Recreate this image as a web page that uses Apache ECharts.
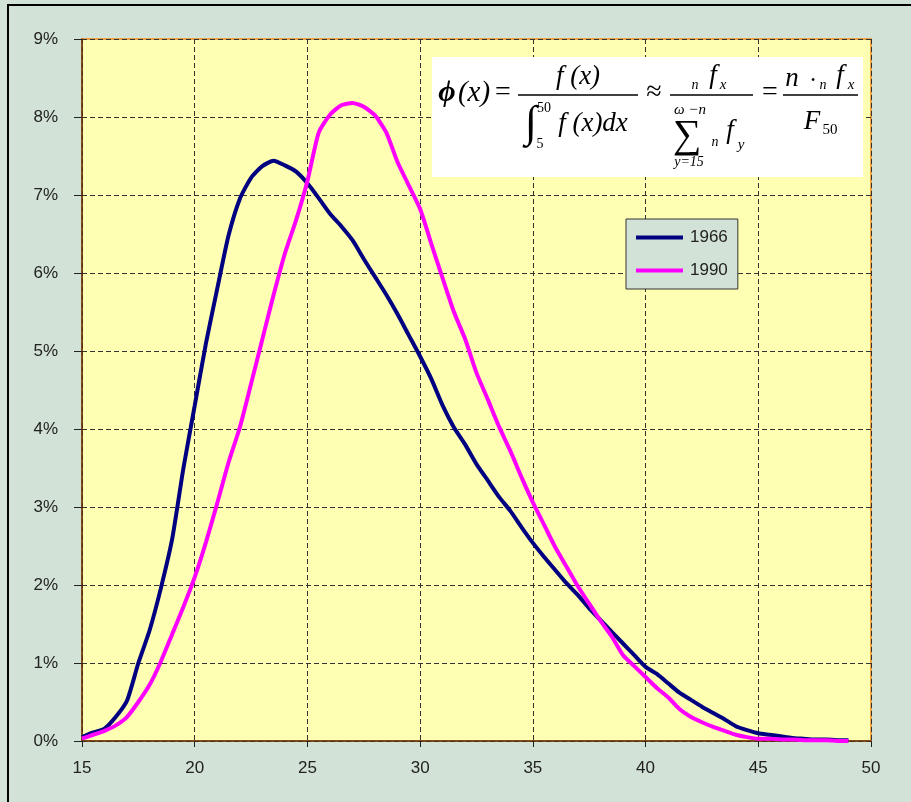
<!DOCTYPE html>
<html>
<head>
<meta charset="utf-8">
<script src="https://cdn.jsdelivr.net/npm/echarts@6/dist/echarts.min.js"></script>
<style>
  html, body { margin: 0; padding: 0; background: #d2e2d6; }
  #main { width: 911px; height: 802px; }
</style>
</head>
<body>
<div id="main"></div>
<script>
// ages 15..49 every half year
var ages = [15, 15.5, 16, 16.5, 17, 17.5, 18, 18.5, 19, 19.5, 20, 20.5, 21, 21.5, 22, 22.5, 23, 23.5, 24, 24.5,
  25, 25.5, 26, 26.5, 27, 27.5, 28, 28.5, 29, 29.5, 30, 30.5, 31, 31.5, 32, 32.5, 33, 33.5, 34, 34.5,
  35, 35.5, 36, 36.5, 37, 37.5, 38, 38.5, 39, 39.5, 40, 40.5, 41, 41.5, 42, 42.5, 43, 43.5, 44, 44.5,
  45, 45.5, 46, 46.5, 47, 47.5, 48, 48.5, 49]

// percent values
var y1966 = [0.05, 0.11, 0.16, 0.31, 0.52, 1.0, 1.42, 1.96, 2.59, 3.5, 4.3, 5.1, 5.8, 6.48, 6.95, 7.22, 7.37, 7.44, 7.38, 7.3,
  7.15, 6.96, 6.76, 6.6, 6.42, 6.18, 5.95, 5.72, 5.47, 5.2, 4.93, 4.64, 4.3, 4.02, 3.8, 3.55, 3.34, 3.13, 2.95, 2.74,
  2.54, 2.36, 2.19, 2.02, 1.87, 1.7, 1.55, 1.4, 1.25, 1.1, 0.95, 0.86, 0.74, 0.62, 0.53, 0.44, 0.36, 0.28, 0.19, 0.14,
  0.1, 0.08, 0.06, 0.04, 0.03, 0.02, 0.02, 0.01, 0.01]

var y1990 = [0.03, 0.08, 0.13, 0.2, 0.31, 0.5, 0.72, 1.02, 1.37, 1.72, 2.1, 2.55, 3.05, 3.57, 4.02, 4.58, 5.15, 5.72, 6.25, 6.68,
  7.18, 7.8, 8.03, 8.15, 8.18, 8.13, 8.02, 7.8, 7.42, 7.12, 6.82, 6.37, 5.93, 5.5, 5.15, 4.72, 4.38, 4.03, 3.72, 3.38,
  3.06, 2.77, 2.48, 2.23, 1.98, 1.76, 1.54, 1.34, 1.1, 0.96, 0.82, 0.68, 0.56, 0.41, 0.31, 0.24, 0.18, 0.13, 0.08, 0.05,
  0.03, 0.03, 0.02, 0.02, 0.01, 0.01, 0.01, 0.0, 0.0]

var seriesNames = ['1966', '1990']
var seriesColors = ['#000080', '#ff00ff']

function pairs (ys) {
  return ages.map(function (a, i) { return [a, ys[i]] })
}

var serif = '"Liberation Serif", "DejaVu Serif", serif'

function t (x, y, text, size, italic, align, weight) {
  return {
    type: 'text',
    x: x,
    y: y,
    z: 20,
    style: {
      text: text,
      font: (italic ? 'italic ' : '') + (weight ? weight + ' ' : '') + size + 'px ' + serif,
      fill: '#000',
      align: align || 'center',
      verticalAlign: 'middle'
    }
  }
}
function bar (x1, x2, y) {
  return { type: 'line', z: 20, shape: { x1: x1, y1: y, x2: x2, y2: y }, style: { stroke: '#000', lineWidth: 1.3 } }
}

var myChart = echarts.init(document.getElementById('main'))
var option = {
  backgroundColor: '#d2e2d6',
  animation: false,
  grid: {
    left: 82,
    top: 39,
    right: 40,
    bottom: 61,
    show: true,
    backgroundColor: '#ffffb4',
    borderColor: '#f08a1c',
    borderWidth: 1.5
  },
  xAxis: {
    type: 'value',
    min: 15,
    max: 50,
    interval: 5,
    axisLine: { show: true, onZero: false, lineStyle: { color: '#5a2e0a', width: 1.5 } },
    axisTick: { show: true, length: 6, lineStyle: { color: '#222' } },
    axisLabel: { color: '#222', fontSize: 17, fontFamily: '"Liberation Sans", Arial, sans-serif', margin: 19 },
    splitLine: { show: true, lineStyle: { color: '#333', type: [5, 3], width: 1 } }
  },
  yAxis: {
    type: 'value',
    min: 0,
    max: 9,
    interval: 1,
    axisLine: { show: true, lineStyle: { color: '#5a2e0a', width: 1.5 } },
    axisTick: { show: true, length: 8, lineStyle: { color: '#222' } },
    axisLabel: { color: '#222', fontSize: 17, fontFamily: '"Liberation Sans", Arial, sans-serif', margin: 24, formatter: '{value}%' },
    splitLine: { show: true, lineStyle: { color: '#333', type: [5, 3], width: 1 } }
  },
  legend: {
    show: true,
    left: 626,
    top: 219,
    width: 116,
    orient: 'vertical',
    itemWidth: 47,
    itemHeight: 4,
    itemGap: 16,
    padding: [10, 10, 10, 10],
    backgroundColor: '#d2e2d6',
    borderColor: '#333',
    borderWidth: 1,
    icon: 'rect',
    textStyle: { fontSize: 17, color: '#222', fontFamily: '"Liberation Sans", Arial, sans-serif', padding: [0, 0, 0, 2] },
    data: seriesNames
  },
  series: [
    {
      name: seriesNames[0],
      type: 'line',
      showSymbol: false,
      smooth: 0.2,
      lineStyle: { color: seriesColors[0], width: 4 },
      itemStyle: { color: seriesColors[0] },
      data: pairs(y1966)
    },
    {
      name: seriesNames[1],
      type: 'line',
      showSymbol: false,
      smooth: 0.2,
      lineStyle: { color: seriesColors[1], width: 4 },
      itemStyle: { color: seriesColors[1] },
      data: pairs(y1990)
    }
  ],
  graphic: [
    // outer chart border
    { type: 'rect', z: 0, shape: { x: 8, y: 5, width: 920, height: 820 }, style: { fill: null, stroke: '#000', lineWidth: 2 } },
    // formula box
    { type: 'rect', z: 19, shape: { x: 432, y: 57, width: 431, height: 120 }, style: { fill: '#ffffff', stroke: null } },
    t(447, 93, 'ϕ', 30, true, 'center', 'bold'),
    t(474, 93, '(x)', 29, true),
    t(503, 93, '=', 28, false),
    bar(518, 638, 95),
    t(578, 77, 'f (x)', 27, true),
    t(531, 124, '∫', 44, false),
    t(544, 108, '50', 14, false),
    t(540, 144, '5', 14, false),
    t(593, 124, 'f (x)dx', 27, true),
    t(654, 93, '≈', 28, false),
    bar(670, 753, 95),
    t(695, 85, 'n', 14, true),
    t(713, 76, 'f', 27, true),
    t(723, 85, 'x', 15, true),
    t(690, 110, 'ω −n', 15, true),
    t(687, 136, '∑', 40, false),
    t(689, 162, 'y=15', 14, true),
    t(715, 142, 'n', 14, true),
    t(730, 131, 'f', 27, true),
    t(741, 145, 'y', 15, true),
    t(770, 93, '=', 28, false),
    bar(783, 858, 95),
    t(792, 79, 'n', 27, true),
    t(813, 81, '•', 12, false),
    t(823, 85, 'n', 14, true),
    t(840, 76, 'f', 27, true),
    t(851, 85, 'x', 15, true),
    t(812, 122, 'F', 27, true),
    t(830, 130, '50', 15, false)
  ]
}
myChart.setOption(option)
</script>
</body>
</html>
